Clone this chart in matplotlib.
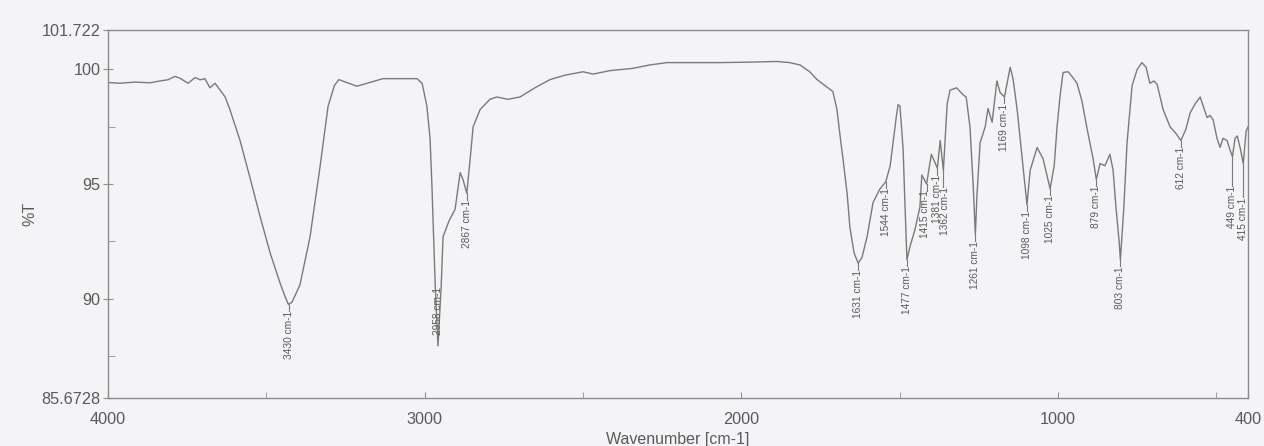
import numpy as np
import matplotlib.pyplot as plt
from matplotlib.transforms import offset_copy

# FT-IR spectrum (wavenumber in cm-1, %T)
wavenumber = [
    4000, 3962, 3915, 3867, 3836, 3811, 3788, 3773, 3747, 3725,
    3709, 3694, 3678, 3662, 3646, 3630, 3615, 3583, 3552, 3520,
    3488, 3457, 3441, 3430, 3419, 3394, 3362, 3330, 3305, 3285,
    3271, 3214, 3132, 3078, 3024, 3008, 2993, 2983, 2977, 2967,
    2958, 2948, 2942, 2923, 2904, 2888, 2879, 2867, 2857, 2847,
    2825, 2794, 2772, 2737, 2699, 2652, 2604, 2557, 2500, 2468,
    2415, 2342, 2288, 2235, 2131, 2067, 1975, 1887, 1848, 1815,
    1784, 1761, 1736, 1711, 1698, 1689, 1679, 1666, 1657, 1644,
    1631, 1619, 1603, 1584, 1562, 1544, 1530, 1521, 1511, 1505,
    1499, 1489, 1483, 1477, 1467, 1452, 1436, 1430, 1415, 1400,
    1381, 1372, 1362, 1350, 1341, 1320, 1300, 1290, 1278, 1268,
    1261, 1256, 1246, 1230, 1221, 1208, 1193, 1183, 1169, 1151,
    1142, 1129, 1113, 1098, 1088, 1066, 1047, 1025, 1012, 1003,
    993, 984, 968, 956, 940, 924, 908, 889, 879, 867,
    852, 836, 826, 817, 807, 803, 792, 782, 766, 750,
    735, 722, 710, 697, 687, 668, 646, 627, 612, 596,
    583, 567, 551, 539, 529, 520, 510, 498, 488, 479,
    466, 457, 449, 441, 434, 425, 415, 406, 400,
]
transmittance = [
    99.43, 99.40, 99.45, 99.42, 99.50, 99.55, 99.70, 99.62, 99.40, 99.65,
    99.55, 99.60, 99.20, 99.40, 99.10, 98.80, 98.25, 96.90, 95.30, 93.60,
    92.00, 90.70, 90.10, 89.75, 89.85, 90.60, 92.70, 95.80, 98.40, 99.30,
    99.56, 99.27, 99.60, 99.60, 99.60, 99.40, 98.40, 97.00, 94.90, 90.70,
    87.95, 90.50, 92.70, 93.40, 93.90, 95.50, 95.20, 94.60, 96.00, 97.50,
    98.25, 98.70, 98.80, 98.70, 98.80, 99.20, 99.56, 99.75, 99.90, 99.80,
    99.95, 100.05, 100.20, 100.30, 100.30, 100.30, 100.32, 100.35, 100.30, 100.20,
    99.90, 99.56, 99.30, 99.04, 98.25, 97.20, 96.10, 94.60, 93.10, 92.00,
    91.55, 91.80, 92.70, 94.20, 94.80, 95.10, 95.80, 96.80, 97.90, 98.47,
    98.40, 96.50, 94.00, 91.70, 92.30, 93.00, 94.00, 95.40, 95.00, 96.30,
    95.70, 96.90, 95.60, 98.50, 99.10, 99.20, 98.90, 98.80, 97.50, 95.00,
    92.80, 94.50, 96.80, 97.50, 98.30, 97.70, 99.50, 99.00, 98.80, 100.10,
    99.60, 98.25, 96.10, 94.10, 95.60, 96.60, 96.10, 94.80, 95.80, 97.50,
    98.90, 99.87, 99.90, 99.70, 99.40, 98.60, 97.40, 96.10, 95.20, 95.90,
    95.80, 96.30, 95.60, 94.00, 92.50, 91.70, 94.00, 96.80, 99.30, 100.00,
    100.30, 100.10, 99.40, 99.50, 99.35, 98.25, 97.50, 97.20, 96.90, 97.40,
    98.10, 98.50, 98.80, 98.30, 97.90, 98.00, 97.80, 97.00, 96.60, 97.00,
    96.90, 96.50, 96.20, 97.00, 97.10, 96.60, 95.90, 97.30, 97.50,
]

peaks = [3430, 2958, 2867, 1631, 1544, 1477, 1415, 1381, 1362,
         1261, 1169, 1098, 1025, 879, 803, 612, 449, 415]

x_labels = [4000, 3000, 2000, 1000, 400]
x_minor = [3500, 2500, 1500, 500]
y_min, y_max = 85.6728, 101.722
y_major = [90, 95, 100]
y_minor = [87.5, 92.5, 97.5]

paper = "#f4f4f7"
ink = "#5a5a5a"
trace = "#7a7a7a"

# label spacing where the peak labels crowd together (leader length in %T, x nudge in px)
leader_extra = {1362: 0.45, 449: 1.0, 415: 1.2}
x_nudge = {1415: -2.0, 1362: 1.5}

plt.rcParams["font.family"] = ["Liberation Sans", "DejaVu Sans"]

fig = plt.figure(figsize=(12.64, 4.46), dpi=100, facecolor=paper)
ax = fig.add_axes([108 / 1264, 1 - 398 / 446, 1140 / 1264, 368 / 446])
ax.set_facecolor(paper)

ax.plot(wavenumber, transmittance, color=trace, lw=1.0)

ax.set_xlim(4000, 400)
ax.set_ylim(y_min, y_max)

# peak labels with short leader lines
wn_asc = np.array(wavenumber[::-1])
t_asc = np.array(transmittance[::-1])
for p in peaks:
    t = np.interp(p, wn_asc, t_asc)
    txt = f"{p} cm-1"
    tr = offset_copy(ax.transData, fig=fig, x=x_nudge.get(p, 0) * 0.72,
                     y=0, units="points")
    if t - 2.6 < y_min:
        ax.text(p, t + 0.45, txt, rotation=90, ha="center", va="bottom",
                fontsize=7.3, color=ink, transform=tr)
    else:
        low = t - 0.28 - leader_extra.get(p, 0)
        ax.plot([p, p], [t, low], color=trace, lw=0.8)
        ax.text(p, low, txt, rotation=90, ha="center", va="top",
                fontsize=7.3, color=ink, transform=tr)

ax.set_xticks(x_labels)
ax.set_xticklabels([str(v) for v in x_labels])
ax.set_xticks(x_minor, minor=True)
ax.tick_params(axis="x", which="both", direction="in", length=4,
               color="#909090", labelsize=11.7, labelcolor=ink, pad=10)

ax.set_yticks([y_min] + y_major + [y_max])
ax.set_yticklabels(["85.6728", "90", "95", "100", "101.722"])
ax.set_yticks(y_minor, minor=True)
ax.tick_params(axis="y", which="major", direction="inout", length=7,
               color="#909090", labelsize=11.7, labelcolor=ink, pad=2)
ax.tick_params(axis="y", which="minor", direction="in", length=5,
               color="#909090")

for s in ax.spines.values():
    s.set_color("#8c8c8c")
    s.set_linewidth(1.0)

ax.set_xlabel("Wavenumber [cm-1]", fontsize=11.5, color=ink)
ax.xaxis.set_label_coords(0.5, -0.092)
ax.set_ylabel("%T", fontsize=11.5, color=ink)
ax.yaxis.set_label_coords(-0.062, 0.5)

fig.savefig("out.png", dpi=100, facecolor=paper)
